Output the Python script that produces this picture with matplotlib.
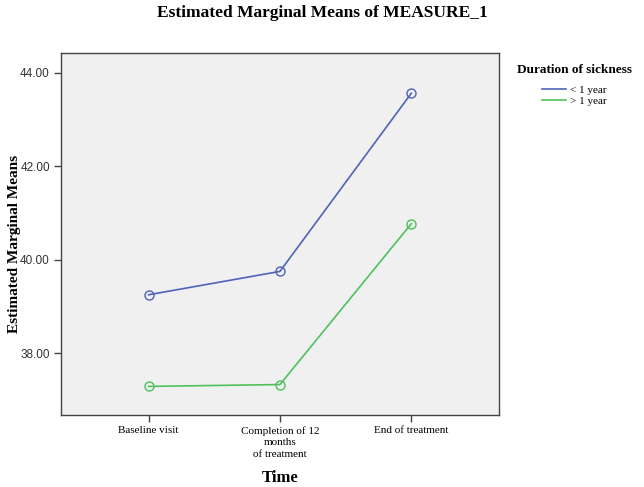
import matplotlib
matplotlib.use("Agg")
import matplotlib.pyplot as plt
from matplotlib.ticker import FormatStrFormatter

# data
time_points = ["Baseline visit", "Completion of 12\nmonths\nof treatment", "End of treatment"]
less_1_year = [39.25, 39.75, 43.56]
more_1_year = [37.29, 37.33, 40.77]
groups = ["< 1 year", "> 1 year"]

serif = "Liberation Serif"
sans = "Liberation Sans"

fig = plt.figure(figsize=(6.44, 4.87), dpi=100)
ax = fig.add_axes([0.0947, 0.148, 0.680, 0.743])
ax.set_facecolor("#f0f0f0")

x = list(range(len(time_points)))
blue = "#4f63b8"
green = "#4fc15c"
ax.plot(x, less_1_year, color=blue, lw=1.2, marker="o", ms=6.5,
        mfc="none", mec=blue, mew=1.0, label=groups[0])
ax.plot(x, more_1_year, color=green, lw=1.2, marker="o", ms=6.5,
        mfc="none", mec=green, mew=1.0, label=groups[1])

ax.set_xlim(-0.667, 2.667)
ax.set_ylim(36.68, 44.42)
ax.set_yticks([38, 40, 42, 44])
ax.yaxis.set_major_formatter(FormatStrFormatter("%.2f"))
ax.set_xticks(x)
ax.set_xticklabels(time_points, fontfamily=serif, fontsize=8, linespacing=1.35)
for lab in ax.get_yticklabels():
    lab.set_fontfamily(sans)
    lab.set_fontsize(8.5)
    lab.set_color("#333333")

ax.tick_params(direction="out", length=5, width=1.0, color="#444444", pad=3)
for s in ax.spines.values():
    s.set_color("#444444")
    s.set_linewidth(1.0)

fig.text(15 / 644, 0.5, "Estimated Marginal Means", rotation=90, ha="center", va="center",
         fontfamily=serif, fontweight="bold", fontsize=11)
fig.text(0.435, 0.018, "Time", ha="center", va="center",
         fontfamily=serif, fontweight="bold", fontsize=12)

fig.text(0.5, 0.99, "Estimated Marginal Means of MEASURE_1", ha="center", va="top",
         fontfamily=serif, fontweight="bold", fontsize=12.5)

leg = fig.legend(loc="upper left", bbox_to_anchor=(0.787, 0.89), frameon=False,
                 prop={"family": serif, "size": 8}, handlelength=2.2,
                 handletextpad=0.4, labelspacing=0.1)
leg.set_title("Duration of sickness", prop={"family": serif, "weight": "bold", "size": 9.5})
leg._legend_box.sep = 7
for h in leg.legend_handles:
    h.set_marker("")

fig.savefig("out.png", dpi=100)
